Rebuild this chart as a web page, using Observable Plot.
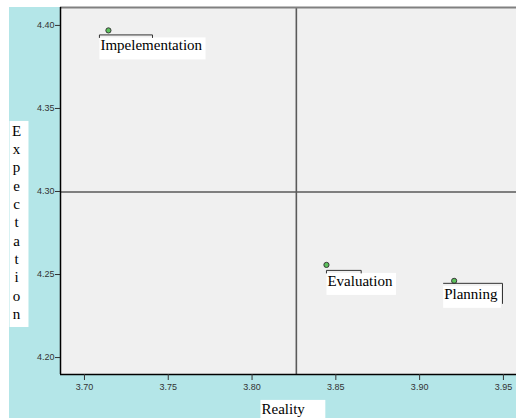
<!DOCTYPE html>
<html><head><meta charset="utf-8">
<script src="https://cdn.jsdelivr.net/npm/d3@7"></script>
<script src="https://cdn.jsdelivr.net/npm/@observablehq/plot@0.6"></script>
<style>body{margin:0;background:#fff;}</style>
</head><body><div id="chart"></div>
<script>
// ---- data ----
const phases = ["Impelementation", "Evaluation", "Planning"];
const reality = [3.7143, 3.8444, 3.9206];
const expectation = [4.397, 4.2558, 4.2462];
const xTicks = [3.70, 3.75, 3.80, 3.85, 3.90, 3.95];
const yTicks = [4.20, 4.25, 4.30, 4.35, 4.40];
const xDomain = [3.6857, 3.9578];
const yDomain = [4.1898, 4.4108];
const xTitle = "Reality";
const yTitle = "Expectation";

const data = phases.map((p, i) => ({phase: p, x: reality[i], y: expectation[i]}));
const meanX = d3.mean(reality), meanY = d3.mean(expectation);

// ---- styling / label layout ----
const serif = "'Liberation Serif', 'Times New Roman', serif";
const sans = "'Liberation Sans', Arial, sans-serif";
const labelLayout = {
  "Impelementation": {dx: -8, dy: 20, frac: 0.5, ends: "both"},
  "Evaluation": {dx: 1, dy: 21, frac: 0.5, ends: "both"},
  "Planning": {dx: -10, dy: 18, frac: 1, ends: "right"}
};
const boxPad = {
  label: {l: 1, r: 3, t: 0, b: 6},
  [xTitle]: {l: 1, r: 20, t: 0.6, b: 6},
  [yTitle]: {l: 2.4, r: 7.4, t: 1.6, b: 5}
};

const svg = Plot.plot({
  width: 507, height: 411,
  marginLeft: 51, marginTop: 0, marginRight: 0, marginBottom: 44,
  style: {background: "#b4e6e8", borderLeft: "9px solid #fff", borderTop: "7px solid #fff",
          display: "block", overflow: "visible", fontFamily: sans},
  x: {domain: xDomain, label: null},
  y: {domain: yDomain, label: null},
  marks: [
    Plot.frame({fill: "#f0f0f0", stroke: null}),
    Plot.ruleX([meanX], {stroke: "#5a5a5a", strokeWidth: 1.6}),
    Plot.ruleY([meanY], {stroke: "#5a5a5a", strokeWidth: 1.6}),
    Plot.ruleY([yDomain[1]], {stroke: "#808080", strokeWidth: 2}),
    Plot.ruleX([xDomain[0]], {stroke: "#000", strokeWidth: 1.5}),
    Plot.ruleY([yDomain[0]], {stroke: "#000", strokeWidth: 1.5}),
    Plot.axisX({ticks: xTicks, tickFormat: d3.format(".2f"), tickSize: 6, tickPadding: 3,
                fontSize: 9, fontFamily: sans, label: null, color: "#333"}),
    Plot.axisY({ticks: yTicks, tickFormat: d3.format(".2f"), tickSize: 5, tickPadding: 1,
                fontSize: 9, fontFamily: sans, label: null, color: "#333"}),
    Plot.dot(data, {x: "x", y: "y", r: 2.6, fill: "#5cc25c", stroke: "#3a3a3a", strokeWidth: 1}),
    ...phases.map(p => Plot.text(data.filter(d => d.phase === p), {
      x: "x", y: "y", text: "phase", textAnchor: "start", lineAnchor: "bottom",
      dx: labelLayout[p].dx, dy: labelLayout[p].dy,
      fontFamily: serif, fontSize: 15, fill: "#000"
    })),
    Plot.text([xTitle], {text: d => d, frameAnchor: "bottom-left", dx: 201, dy: 39,
      textAnchor: "start", lineAnchor: "bottom", fontFamily: serif, fontSize: 15, fill: "#000"}),
    Plot.text([yTitle], {text: d => d.split("").join("\n"), frameAnchor: "top-left", dx: -44, dy: 115,
      textAnchor: "middle", lineAnchor: "top", lineHeight: 1.223, fontFamily: serif, fontSize: 15, fill: "#000"})
  ]
});
document.getElementById("chart").append(svg);

// white label boxes and SPSS-style label connectors
const ns = "http://www.w3.org/2000/svg";
d3.select(svg).selectAll("text").each(function () {
  const t = this.textContent;
  let pad;
  if (phases.includes(t)) pad = boxPad.label;
  else if (t === xTitle || t === yTitle) pad = boxPad[t];
  else return;
  const b = this.getBBox();
  const tr = this.getAttribute("transform");
  const rx = b.x - pad.l, ry = b.y - pad.t, rw = b.width + pad.l + pad.r, rh = b.height + pad.t + pad.b;
  const rect = document.createElementNS(ns, "rect");
  rect.setAttribute("x", rx); rect.setAttribute("y", ry);
  rect.setAttribute("width", rw); rect.setAttribute("height", rh);
  rect.setAttribute("fill", "#fff");
  if (tr) rect.setAttribute("transform", tr);
  this.parentNode.insertBefore(rect, this);
  if (phases.includes(t)) {
    const L = labelLayout[t];
    const y0 = ry - 2.5;
    const x0 = rx, x1 = L.frac >= 1 ? rx + rw + 1.5 : rx + rw * L.frac;
    let d = `M${x0},${y0}H${x1}`;
    if (L.ends === "both") d = `M${x0},${y0 + 3}V${y0}H${x1}V${y0 + 3}`;
    if (L.ends === "right") d = `M${x0},${y0}H${x1}V${ry + rh - 4}`;
    const path = document.createElementNS(ns, "path");
    path.setAttribute("d", d);
    path.setAttribute("fill", "none");
    path.setAttribute("stroke", "#333");
    path.setAttribute("stroke-width", 1);
    if (tr) path.setAttribute("transform", tr);
    this.parentNode.insertBefore(path, this);
  }
});
</script>
</body></html>
